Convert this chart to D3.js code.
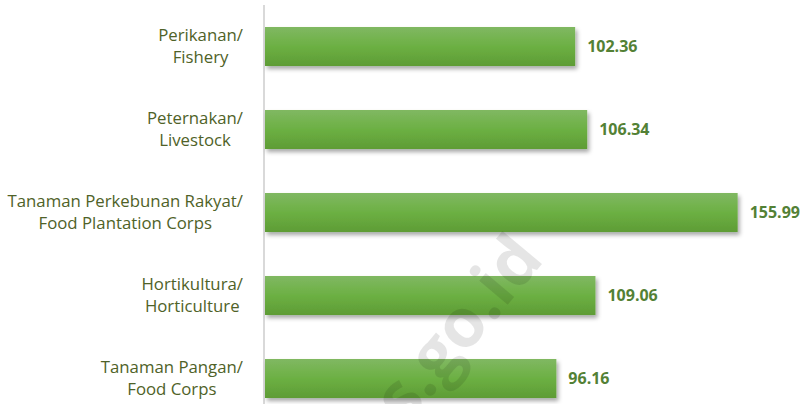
<!DOCTYPE html>
<html>
<head>
<meta charset="utf-8">
<script src="https://cdn.jsdelivr.net/npm/d3@7"></script>
<style>
  body { margin: 0; background: #fff; }
  svg { display: block; font-family: "Open Sans", "Noto Sans", sans-serif; }
</style>
</head>
<body>
<div id="chart"></div>
<script>
const categories = ['Perikanan/|Fishery', 'Peternakan/|Livestock', 'Tanaman Perkebunan Rakyat/|Food Plantation Corps', 'Hortikultura/|Horticulture', 'Tanaman Pangan/|Food Corps']
const values = [102.36, 106.34, 155.99, 109.06, 96.16]

const width = 809
const height = 404
const x0 = 265

const svg = d3.select('#chart')
    .append('svg')
    .attr('width', width)
    .attr('height', height)

const defs = svg.append('defs')
const grad = defs.append('linearGradient')
    .attr('id', 'barGrad')
    .attr('x1', 0).attr('y1', 0).attr('x2', 0).attr('y2', 1)
grad.append('stop').attr('offset', '0%').attr('stop-color', '#80b862')
grad.append('stop').attr('offset', '50%').attr('stop-color', '#6cb043')
grad.append('stop').attr('offset', '100%').attr('stop-color', '#5e9c35')

const shadow = defs.append('filter')
    .attr('id', 'shadow')
    .attr('x', '-5%').attr('y', '-20%').attr('width', '115%').attr('height', '160%')
shadow.append('feDropShadow')
    .attr('dx', 2).attr('dy', 3).attr('stdDeviation', 2)
    .attr('flood-color', '#000').attr('flood-opacity', 0.35)

const xScale = d3.scaleLinear()
    .domain([0, 100])
    .range([x0, x0 + 303])

const yScale = d3.scaleBand()
    .domain(categories)
    .range([5, 420])
    .paddingInner(0.53)
    .paddingOuter(0.265)

// axis line
svg.append('line')
    .attr('x1', x0 - 1).attr('x2', x0 - 1)
    .attr('y1', 5).attr('y2', height)
    .attr('stroke', '#d9d9d9')
    .attr('stroke-width', 2)

svg.selectAll('rect.bar')
    .data(values)
    .join('rect')
    .attr('class', 'bar')
    .attr('x', x0)
    .attr('y', (d, i) => yScale(categories[i]))
    .attr('width', d => xScale(d) - x0)
    .attr('height', yScale.bandwidth())
    .attr('fill', 'url(#barGrad)')
    .attr('filter', 'url(#shadow)')

svg.selectAll('text.value')
    .data(values)
    .join('text')
    .attr('class', 'value')
    .attr('x', d => xScale(d) + 12)
    .attr('y', (d, i) => yScale(categories[i]) + yScale.bandwidth() / 2)
    .attr('dy', '0.35em')
    .attr('fill', '#538135')
    .attr('font-weight', 'bold')
    .attr('font-size', 16)
    .text(d => d.toFixed(2))

const labels = svg.selectAll('text.cat')
    .data(categories)
    .join('text')
    .attr('class', 'cat')
    .attr('x', 243)
    .attr('y', d => yScale(d) + yScale.bandwidth() / 2)
    .attr('text-anchor', 'end')
    .attr('fill', '#4f6228')
    .attr('font-size', 16.8)

labels.selectAll('tspan')
    .data(d => d.split('|').map((t, i) => ({t, i})))
    .join('tspan')
    .attr('x', 243)
    .attr('dy', d => d.i === 0 ? '-0.33em' : '1.3em')
    .text(d => d.t)

// center second lines under first lines
labels.each(function () {
    const spans = d3.select(this).selectAll('tspan').nodes()
    const w0 = spans[0].getComputedTextLength()
    const w1 = spans[1].getComputedTextLength()
    d3.select(spans[1]).attr('x', 243 - (w0 - w1) / 2)
})

// watermark, drawn over the bars
svg.append('text')
    .attr('transform', 'translate(448,376) rotate(-50)')
    .attr('text-anchor', 'middle')
    .attr('font-size', 68)
    .attr('font-weight', 'bold')
    .attr('fill', '#000')
    .attr('fill-opacity', 0.1)
    .text('bps.go.id')
</script>
</body>
</html>
